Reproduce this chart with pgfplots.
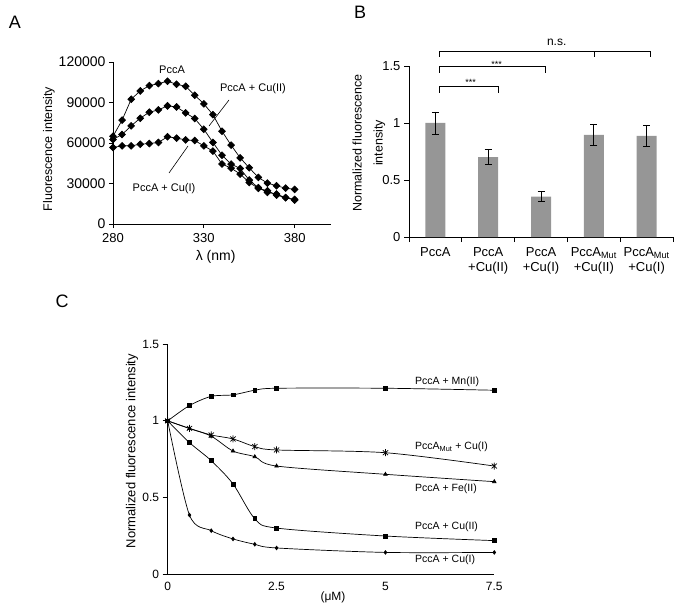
\documentclass[border=0pt]{standalone}
\usepackage{fontspec}
\setmainfont{Liberation Sans}
\usepackage{pgfplots}
\pgfplotsset{compat=1.18}
\definecolor{barg}{RGB}{150,150,150}
\pgfdeclareplotmark{xast}{%
  \pgfpathmoveto{\pgfqpoint{0pt}{\pgfplotmarksize}}%
  \pgfpathlineto{\pgfqpoint{0pt}{-\pgfplotmarksize}}%
  \pgfpathmoveto{\pgfqpoint{-.75\pgfplotmarksize}{.7\pgfplotmarksize}}%
  \pgfpathlineto{\pgfqpoint{.75\pgfplotmarksize}{-.7\pgfplotmarksize}}%
  \pgfpathmoveto{\pgfqpoint{-.75\pgfplotmarksize}{-.7\pgfplotmarksize}}%
  \pgfpathlineto{\pgfqpoint{.75\pgfplotmarksize}{.7\pgfplotmarksize}}%
  \pgfusepathqstroke}
\pgfplotsset{
  myaxis/.style={
    scale only axis, anchor=south west,
    axis x line*=bottom, axis y line*=left,
    tick align=outside,
    axis line style={black, line width=0.9pt},
    every tick/.style={black, line width=0.9pt},
    major tick length=5pt, minor tick length=5pt,
    /pgf/number format/fixed,
    /pgf/number format/assume math mode=true,
    /pgf/number format/1000 sep={},
    clip=false,
  }
}
\begin{document}
\begin{tikzpicture}
\path[use as bounding box] (0,0) rectangle (680pt,614pt);
\node[font=\fontsize{18}{18}\selectfont] at (15pt,592pt) {A};
\node[font=\fontsize{18}{18}\selectfont] at (360pt,602pt) {B};
\node[font=\fontsize{18}{18}\selectfont] at (62pt,313pt) {C};

% ---------------- Panel A
\begin{axis}[myaxis,
  at={(113pt,390pt)}, width=218pt, height=162pt,
  xmin=280, xmax=400, ymin=0, ymax=120000,
  xtick={280,330,380}, ytick={0,30000,60000,90000,120000},
  scaled y ticks=false,
  major tick length=4pt,
  xticklabel style={font=\fontsize{13}{13}\selectfont, yshift=-2pt},
  yticklabel style={font=\fontsize{14}{14}\selectfont},
  xlabel={λ (nm)}, ylabel={Fluorescence intensity},
  xlabel style={font=\fontsize{14}{14}\selectfont, at={(axis description cs:0.471,-0.204)}, anchor=center},
  ylabel style={font=\fontsize{12.5}{12.5}\selectfont, at={(axis description cs:-0.294,0.463)}, anchor=center},
]
\addplot[black, line width=0.7pt, mark=square*, mark size=2.4pt, mark options={rotate=45, fill=black, solid}] coordinates {
(280,65000)(285,76900)(290,92400)(295,98600)(300,102500)(305,104000)(310,105700)(315,103500)(320,102000)(325,95400)(330,89000)(335,81000)(340,68700)(345,58400)(350,49000)(355,41600)(360,34500)(365,30300)(370,28300)(375,26600)(380,25600)};
\addplot[black, line width=0.7pt, mark=square*, mark size=2.4pt, mark options={rotate=45, fill=black, solid}] coordinates {
(280,62600)(285,66300)(290,72700)(295,78400)(300,82800)(305,84500)(310,87500)(315,86700)(320,82300)(325,78100)(330,70200)(335,60400)(340,51000)(345,44400)(350,41100)(355,32500)(360,26900)(365,23400)(370,22200)(375,19500)(380,18200)};
\addplot[black, line width=0.7pt, mark=square*, mark size=2.4pt, mark options={rotate=45, fill=black, solid}] coordinates {
(280,56700)(285,57900)(290,57900)(295,59100)(300,59600)(305,60400)(310,64600)(315,63600)(320,62300)(325,61800)(330,57900)(335,54000)(340,44400)(345,41400)(350,37000)(355,30800)(360,26400)(365,24600)(370,21400)(375,19500)(380,17700)};
\end{axis}
\node[font=\fontsize{11}{11}\selectfont, anchor=base] at (172pt,540pt) {PccA};
\node[font=\fontsize{11}{11}\selectfont, anchor=base] at (253pt,522.3pt) {PccA + Cu(II)};
\draw[black, line width=0.6pt] (229pt,514pt) -- (209pt,488pt);
\node[font=\fontsize{11}{11}\selectfont, anchor=base] at (164pt,422pt) {PccA + Cu(I)};
\draw[black, line width=0.6pt] (169pt,441pt) -- (188pt,468pt);

% ---------------- Panel B
\begin{axis}[myaxis,
  at={(409pt,377pt)}, width=264pt, height=171pt,
  xmin=-0.5, xmax=4.5, ymin=0, ymax=1.5,
  ytick={0,0.5,1,1.5},
  xtick={0,1,2,3,4},
  major x tick style={draw=none},
  minor xtick={-0.5,0.5,1.5,2.5,3.5,4.5},
  xticklabels={PccA,{PccA\\+Cu(II)},{PccA\\+Cu(I)},{PccA\textsubscript{Mut}\\+Cu(II)},{PccA\textsubscript{Mut}\\+Cu(I)}},
  xticklabel style={align=center, anchor=north, font=\fontsize{13}{15}\selectfont, yshift=-2pt},
  yticklabel style={font=\fontsize{13}{13}\selectfont},
  ylabel={Normalized fluorescence\\intensity},
  ylabel style={align=center, font=\fontsize{12.5}{21}\selectfont, at={(axis description cs:-0.152,0.55)}, anchor=center},
]
\addplot[ybar, bar width=20pt, fill=barg, draw=none,
  error bars/.cd, y dir=both, y explicit,
  error bar style={black, line width=0.8pt},
  error mark options={rotate=90, mark size=3.5pt, black, line width=0.8pt}]
coordinates {
(0,1.0) +- (0,0.097)
(1,0.70) +- (0,0.065)
(2,0.355) +- (0,0.042)
(3,0.895) +- (0,0.092)
(4,0.886) +- (0,0.092)};
\end{axis}
\draw[black, line width=0.8pt] (439pt,557.3pt) -- (439pt,562.3pt) -- (650.7pt,562.3pt) -- (650.7pt,557.3pt);
\draw[black, line width=0.8pt] (594.3pt,562.3pt) -- (594.3pt,557.3pt);
\draw[black, line width=0.8pt] (439pt,541.3pt) -- (439pt,547.3pt) -- (545.3pt,547.3pt) -- (545.3pt,541.3pt);
\draw[black, line width=0.8pt] (439pt,521.3pt) -- (439pt,527.3pt) -- (498.7pt,527.3pt) -- (498.7pt,521.3pt);
\node[font=\fontsize{12}{12}\selectfont, anchor=base] at (556.7pt,568.2pt) {n.s.};
\node[font=\fontsize{9}{9}\selectfont, anchor=base] at (496.7pt,546.5pt) {***};
\node[font=\fontsize{9}{9}\selectfont, anchor=base] at (470.7pt,528.8pt) {***};

% ---------------- Panel C
\begin{axis}[myaxis,
  at={(167.7pt,40pt)}, width=326.6pt, height=229.7pt,
  xmin=0, xmax=7.5, ymin=0, ymax=1.5,
  xtick={0,2.5,5,7.5}, ytick={0,0.5,1,1.5},
  major x tick style={draw=none},
  xticklabel style={font=\fontsize{12}{12}\selectfont},
  yticklabel style={font=\fontsize{12}{12}\selectfont},
  xlabel={(μM)}, ylabel={Normalized fluorescence intensity},
  xlabel style={font=\fontsize{12}{12}\selectfont, at={(axis description cs:0.506,-0.1)}, anchor=center},
  ylabel style={font=\fontsize{13}{13}\selectfont, at={(axis description cs:-0.109,0.535)}, anchor=center},
]
\addplot[black, line width=0.7pt, smooth, mark=square*, mark size=1.9pt, mark options={fill=black, solid}] coordinates {
(0,1.0)(0.5,1.10)(1,1.16)(1.5,1.17)(2,1.20)(2.5,1.213)(5,1.213)(7.5,1.20)};
\addplot[black, line width=0.7pt, smooth, mark=xast, mark size=3.5pt, mark options={solid, line width=0.7pt}] coordinates {
(0,1.0)(0.5,0.951)(1,0.908)(1.5,0.882)(2,0.832)(2.5,0.81)(5,0.792)(7.5,0.705)};
\addplot[black, line width=0.7pt, smooth, mark=triangle*, mark size=2pt, mark options={fill=black, solid}] coordinates {
(0,1.0)(0.5,0.95)(1,0.90)(1.5,0.803)(2,0.766)(2.5,0.705)(5,0.651)(7.5,0.603)};
\addplot[black, line width=0.7pt, smooth, mark=square*, mark size=1.9pt, mark options={fill=black, solid}] coordinates {
(0,1.0)(0.5,0.858)(1,0.740)(1.5,0.588)(2,0.361)(2.5,0.30)(5,0.248)(7.5,0.218)};
\addplot[black, line width=0.7pt, smooth, mark=diamond*, mark size=1.8pt, mark options={fill=black, solid}] coordinates {
(0,1.0)(0.5,0.385)(1,0.283)(1.5,0.229)(2,0.194)(2.5,0.17)(5,0.141)(7.5,0.141)};
\end{axis}
\node[font=\fontsize{10.5}{10.5}\selectfont, anchor=base west] at (411.7pt,229.2pt) {PccA + Mn(II)};
\node[font=\fontsize{10.5}{10.5}\selectfont, anchor=base west] at (411.7pt,164.2pt) {PccA\textsubscript{Mut} + Cu(I)};
\node[font=\fontsize{10.5}{10.5}\selectfont, anchor=base west] at (411.7pt,122.2pt) {PccA + Fe(II)};
\node[font=\fontsize{10.5}{10.5}\selectfont, anchor=base west] at (411.7pt,84.2pt) {PccA + Cu(II)};
\node[font=\fontsize{10.5}{10.5}\selectfont, anchor=base west] at (411.7pt,51.2pt) {PccA + Cu(I)};
\end{tikzpicture}
\end{document}
